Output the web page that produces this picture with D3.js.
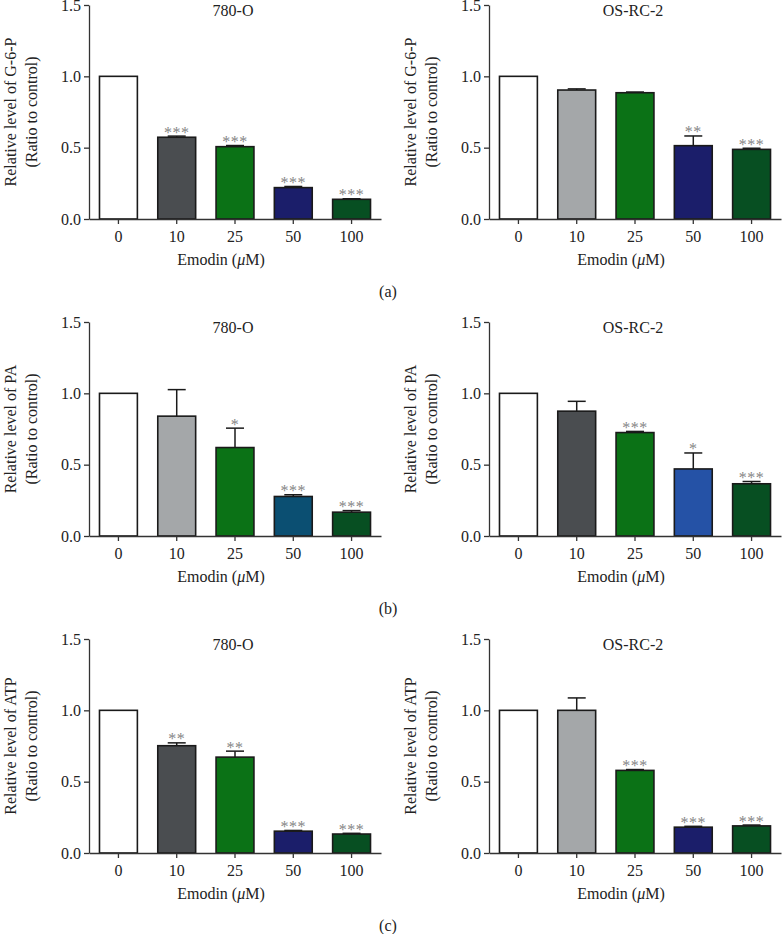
<!DOCTYPE html>
<html>
<head>
<meta charset="utf-8">
<script src="https://cdn.jsdelivr.net/npm/d3@7"></script>
<style>
  body { margin: 0; background: #fff; }
  svg { display: block; }
  text { font-family: "Liberation Serif", "Times New Roman", serif; }
</style>
</head>
<body>
<div id="root"></div>
<script>
// doses on the x axis
const doses = ['0', '10', '25', '50', '100'];
const yTicks = [0, 0.5, 1.0, 1.5];

// (a) G-6-P
const g6p780 = [1.0, 0.573, 0.507, 0.22, 0.138];
const g6p780Err = [0, 0.008, 0.008, 0.008, 0.004];
const g6p780Sig = ['', '***', '***', '***', '***'];
const g6pOsrc = [1.0, 0.904, 0.885, 0.514, 0.488];
const g6pOsrcErr = [0, 0.008, 0.005, 0.068, 0.008];
const g6pOsrcSig = ['', '', '', '**', '***'];

// (b) PA
const pa780 = [1.0, 0.84, 0.62, 0.277, 0.167];
const pa780Err = [0, 0.186, 0.136, 0.012, 0.011];
const pa780Sig = ['', '', '*', '***', '***'];
const paOsrc = [1.0, 0.875, 0.725, 0.47, 0.366];
const paOsrcErr = [0, 0.069, 0.008, 0.112, 0.016];
const paOsrcSig = ['', '', '***', '*', '***'];

// (c) ATP
const atp780 = [1.0, 0.752, 0.672, 0.153, 0.133];
const atp780Err = [0, 0.02, 0.042, 0.005, 0.005];
const atp780Sig = ['', '**', '**', '***', '***'];
const atpOsrc = [1.0, 1.0, 0.579, 0.181, 0.19];
const atpOsrcErr = [0, 0.087, 0.006, 0.006, 0.006];
const atpOsrcSig = ['', '', '***', '***', '***'];

const c = {
  white: '#ffffff', dark: '#4a4d50', light: '#a4a7a9', green: '#0b7216',
  navy: '#1b1e6a', dgreen: '#074f22', teal: '#0b4f72', blue: '#2552a6'
};
const colors780a = [c.white, c.dark, c.green, c.navy, c.dgreen];
const colorsOsrcA = [c.white, c.light, c.green, c.navy, c.dgreen];
const colors780b = [c.white, c.light, c.green, c.teal, c.dgreen];
const colorsOsrcB = [c.white, c.dark, c.green, c.blue, c.dgreen];
const colors780c = [c.white, c.dark, c.green, c.navy, c.dgreen];
const colorsOsrcC = [c.white, c.light, c.green, c.navy, c.dgreen];

const W = 782, H = 934;
const colX = [89, 489];
const rowY = [5, 322, 639];
const pw = 292, ph = 214;
const fs = '16px';

const panels = [
  { row: 0, col: 0, title: '780-O', ylab: 'Relative level of G-6-P', vals: g6p780, errs: g6p780Err, sig: g6p780Sig, colors: colors780a },
  { row: 0, col: 1, title: 'OS-RC-2', ylab: 'Relative level of G-6-P', vals: g6pOsrc, errs: g6pOsrcErr, sig: g6pOsrcSig, colors: colorsOsrcA },
  { row: 1, col: 0, title: '780-O', ylab: 'Relative level of PA', vals: pa780, errs: pa780Err, sig: pa780Sig, colors: colors780b },
  { row: 1, col: 1, title: 'OS-RC-2', ylab: 'Relative level of PA', vals: paOsrc, errs: paOsrcErr, sig: paOsrcSig, colors: colorsOsrcB },
  { row: 2, col: 0, title: '780-O', ylab: 'Relative level of ATP', vals: atp780, errs: atp780Err, sig: atp780Sig, colors: colors780c },
  { row: 2, col: 1, title: 'OS-RC-2', ylab: 'Relative level of ATP', vals: atpOsrc, errs: atpOsrcErr, sig: atpOsrcSig, colors: colorsOsrcC }
];
const rowLetters = ['(a)', '(b)', '(c)'];

const svg = d3.select('#root').append('svg')
  .attr('width', W)
  .attr('height', H);

const x = d3.scaleBand().domain(doses).range([0, pw]).paddingInner(0.35).paddingOuter(0.18);
const y = d3.scaleLinear().domain([0, 1.5]).range([ph, 0]);

panels.forEach(p => {
  const g = svg.append('g')
    .attr('transform', `translate(${colX[p.col]},${rowY[p.row]})`);
  const idx = d => doses.indexOf(d);
  const cx = d => x(d) + x.bandwidth() / 2;
  const top = d => y(p.vals[idx(d)] + p.errs[idx(d)]);

  // bars
  g.selectAll('rect.bar')
    .data(doses)
    .enter().append('rect')
    .attr('class', 'bar')
    .attr('x', d => x(d))
    .attr('y', (d, i) => y(p.vals[i]))
    .attr('width', x.bandwidth())
    .attr('height', (d, i) => ph - y(p.vals[i]))
    .style('fill', (d, i) => p.colors[i])
    .style('stroke', '#1a1a1a')
    .style('stroke-width', 1.6);

  // error bars
  const eb = g.selectAll('g.err')
    .data(doses.filter((d, i) => p.errs[i] > 0))
    .enter().append('g')
    .attr('class', 'err');
  eb.append('line')
    .attr('x1', cx)
    .attr('x2', cx)
    .attr('y1', d => y(p.vals[idx(d)]))
    .attr('y2', top)
    .style('stroke', '#1a1a1a')
    .style('stroke-width', 1.5);
  eb.append('line')
    .attr('x1', d => cx(d) - 9)
    .attr('x2', d => cx(d) + 9)
    .attr('y1', top)
    .attr('y2', top)
    .style('stroke', '#1a1a1a')
    .style('stroke-width', 1.5);

  // significance stars
  g.selectAll('text.sig')
    .data(doses.filter((d, i) => p.sig[i]))
    .enter().append('text')
    .attr('class', 'sig')
    .attr('x', cx)
    .attr('y', d => top(d) + 1.5)
    .attr('text-anchor', 'middle')
    .style('font-size', '16px')
    .style('letter-spacing', '0.5px')
    .style('fill', '#858585')
    .text(d => p.sig[idx(d)]);

  // axes
  const yAxis = g.append('g')
    .call(d3.axisLeft(y).tickValues(yTicks).tickFormat(d3.format('.1f')).tickSize(5).tickSizeOuter(0));
  const xAxis = g.append('g')
    .attr('transform', `translate(0,${ph})`)
    .call(d3.axisBottom(x).tickSize(5).tickSizeOuter(0).tickPadding(7));
  [yAxis, xAxis].forEach(a => {
    a.selectAll('path, line').style('stroke', '#333').style('stroke-width', 1.3);
    a.selectAll('text').style('font-size', fs).style('fill', '#222')
      .style('font-family', '"Liberation Serif", "Times New Roman", serif');
  });

  // title
  g.append('text')
    .attr('x', pw / 2 - 2)
    .attr('y', 11)
    .attr('text-anchor', 'middle')
    .style('font-size', fs)
    .style('fill', '#222')
    .text(p.title);

  // x label
  const xl = g.append('text')
    .attr('x', pw / 2 - 14)
    .attr('y', ph + 46)
    .attr('text-anchor', 'middle')
    .style('font-size', fs)
    .style('fill', '#222');
  xl.append('tspan').text('Emodin (');
  xl.append('tspan').style('font-style', 'italic').text('\u03bc');
  xl.append('tspan').text('M)');

  // y label, two lines
  const yl = g.append('text')
    .attr('transform', `translate(0,${ph / 2}) rotate(-90)`)
    .attr('text-anchor', 'middle')
    .style('font-size', fs)
    .style('fill', '#222');
  yl.append('tspan').attr('x', 0).attr('y', -73).text(p.ylab);
  yl.append('tspan').attr('x', 0).attr('y', -52).text('(Ratio to control)');
});

// row letters
svg.selectAll('text.letter')
  .data(rowLetters)
  .enter().append('text')
  .attr('class', 'letter')
  .attr('x', 388)
  .attr('y', (d, i) => rowY[i] + ph + 78)
  .attr('text-anchor', 'middle')
  .style('font-size', fs)
  .style('fill', '#222')
  .text(d => d);
</script>
</body>
</html>
